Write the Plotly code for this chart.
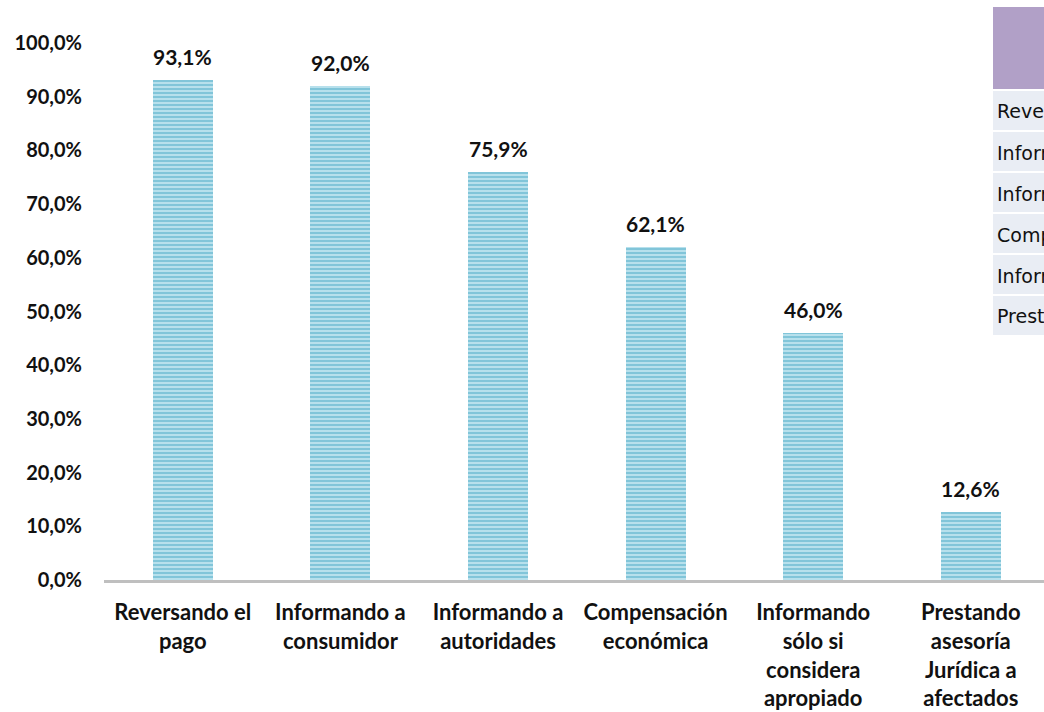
import plotly.graph_objects as go

# Acciones tomadas ante un pago fraudulento (% de entidades)
categorias = [
    "Reversando el<br>pago",
    "Informando a<br>consumidor",
    "Informando a<br>autoridades",
    "Compensación<br>económica",
    "Informando<br>sólo si<br>considera<br>apropiado",
    "Prestando<br>asesoría<br>Jurídica a<br>afectados",
]
valores = [93.1, 92.0, 75.9, 62.1, 46.0, 12.6]
ticks_y = list(range(0, 101, 10))

# Filas de la tabla lateral
filas_tabla = [
    "Reversando el pago",
    "Informando a consumidor",
    "Informando a autoridades",
    "Compensación económica",
    "Informando sólo si considera apropiado",
    "Prestando asesoría Jurídica a afectados",
]

W, H = 1044, 712
ML, MR, MT, MB = 104, 0, 43, 132
PW, PH = W - ML - MR, H - MT - MB
STEP = 157.6  # px por categoría


def px_x(p):
    return (p - ML) / PW


def px_y(p):
    return (H - MB - p) / PH


def pct(v):
    return f"{v:.1f}".replace(".", ",") + "%"


fig = go.Figure()
fig.add_trace(go.Bar(
    x=list(range(len(categorias))),
    y=valores,
    width=0.38,
    marker=dict(
        color="#C4E7F0",
        line=dict(width=0),
        pattern=dict(shape="-", fgcolor="#3EA4C1", size=4, solidity=0.6),
    ),
    hoverinfo="skip",
))

annotations = []
for i, v in enumerate(valores):
    annotations.append(dict(
        x=i, y=v, xref="x", yref="y",
        text=pct(v),
        showarrow=False, yanchor="bottom", yshift=9,
        font=dict(family="Lato", size=21, color="#111111", weight="bold"),
    ))

shapes = []
# Cabecera de la tabla
shapes.append(dict(
    type="rect", xref="paper", yref="paper",
    x0=px_x(993), x1=px_x(1300), y0=px_y(89), y1=px_y(7),
    fillcolor="#B1A0C7", line=dict(width=0), layer="above",
))
ROW_TOP, ROW_H, ROW_PITCH = 91, 39, 41
for i, t in enumerate(filas_tabla):
    y0 = ROW_TOP + i * ROW_PITCH
    shapes.append(dict(
        type="rect", xref="paper", yref="paper",
        x0=px_x(993), x1=px_x(1300), y0=px_y(y0 + ROW_H), y1=px_y(y0),
        fillcolor="#E9EDF4", line=dict(width=0), layer="above",
    ))
    annotations.append(dict(
        x=px_x(995), y=px_y(y0 + ROW_H / 2 + 1), xref="paper", yref="paper",
        text=t, showarrow=False, xanchor="left", yanchor="middle",
        font=dict(family="DejaVu Sans", size=19, color="#111111"),
    ))

fig.update_layout(
    width=W, height=H,
    margin=dict(l=ML, r=MR, t=MT, b=MB, pad=0),
    paper_bgcolor="white", plot_bgcolor="white",
    showlegend=False,
    bargap=0,
    xaxis=dict(
        range=[-0.5, -0.5 + PW / STEP],
        tickmode="array",
        tickvals=list(range(len(categorias))),
        ticktext=categorias,
        showgrid=False, zeroline=False,
        showline=True, linecolor="#BFBFBF", linewidth=3,
        ticks="", ticklabelstandoff=11,
        tickfont=dict(family="Lato", size=22, color="#111111", weight="bold"),
        fixedrange=True,
    ),
    yaxis=dict(
        range=[0, 100],
        tickmode="array",
        tickvals=ticks_y,
        ticktext=[pct(v) for v in ticks_y],
        showgrid=False, zeroline=False, showline=False,
        ticks="", ticklabelstandoff=21,
        tickfont=dict(family="Lato", size=20, color="#111111", weight="bold"),
        fixedrange=True,
    ),
    shapes=shapes,
    annotations=annotations,
)

fig.write_html("out.html", config={"displayModeBar": False})
